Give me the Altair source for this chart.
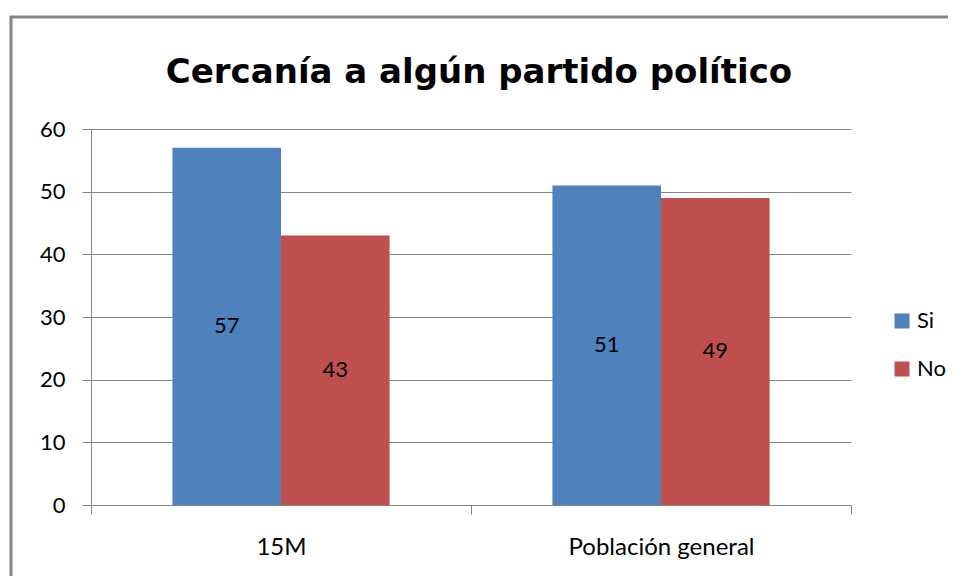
import altair as alt
import pandas as pd

categories = ["15M", "15M", "Población general", "Población general"]
series = ["Si", "No", "Si", "No"]
values = [57, 43, 51, 49]

df = pd.DataFrame({"grupo": categories, "serie": series, "valor": values})
df["mid"] = df["valor"] / 2

FONT = "Lato"
GRAY = "#868686"

x_enc = alt.X("grupo:N", title=None, sort=["15M", "Población general"],
              scale=alt.Scale(paddingInner=0, paddingOuter=0),
              axis=alt.Axis(labelAngle=0, labelFontSize=24, labelFont=FONT, labelColor="black",
                            tickBand="extent", tickSize=9, tickColor=GRAY, domainColor=GRAY,
                            labelPadding=21, labelLimit=0, grid=False))
xoff = alt.XOffset("serie:N", sort=["Si", "No"],
                   scale=alt.Scale(paddingInner=0, paddingOuter=0.75))

bars = alt.Chart(df).mark_bar().encode(
    x=x_enc,
    xOffset=xoff,
    y=alt.Y("valor:Q", title=None,
            scale=alt.Scale(domain=[0, 60], nice=False),
            axis=alt.Axis(values=[0, 10, 20, 30, 40, 50, 60], labelFontSize=22, labelFont=FONT,
                          labelColor="black", tickSize=9, tickColor=GRAY, domainColor=GRAY,
                          gridColor=GRAY, labelPadding=17)),
    color=alt.Color("serie:N", sort=["Si", "No"],
                    scale=alt.Scale(domain=["Si", "No"], range=["#4F81BD", "#C0504D"]),
                    legend=alt.Legend(title=None, orient="none", legendX=800, legendY=181,
                                      symbolType="square", symbolSize=225, symbolStrokeWidth=0,
                                      labelFontSize=22, labelFont=FONT, labelColor="black",
                                      rowPadding=26, labelOffset=4)),
)

labels = alt.Chart(df).mark_text(fontSize=22, font=FONT, color="black").encode(
    x=alt.X("grupo:N", sort=["15M", "Población general"]),
    xOffset=xoff,
    y=alt.Y("mid:Q"),
    text=alt.Text("valor:Q"),
)

border = alt.Chart(pd.DataFrame({"a": [0]})).mark_rect(
    fill=None, stroke=GRAY, strokeWidth=3
).encode(x=alt.value(-80), x2=alt.value(870), y=alt.value(-112), y2=alt.value(480))

chart = alt.layer(border, bars, labels).properties(
    width=760, height=376,
    autosize=alt.AutoSizeParams(type="none"),
    padding={"left": 83, "top": 121, "right": 97, "bottom": 71},
    title=alt.Title("Cercanía a algún partido político", fontSize=34, font="DejaVu Sans",
                    fontWeight="bold", color="black", offset=0, anchor="middle", dx=8, dy=74),
).configure_view(stroke=None).configure_axis(grid=True)

chart.save("out.html", embed_options={"renderer": "svg", "actions": False})
